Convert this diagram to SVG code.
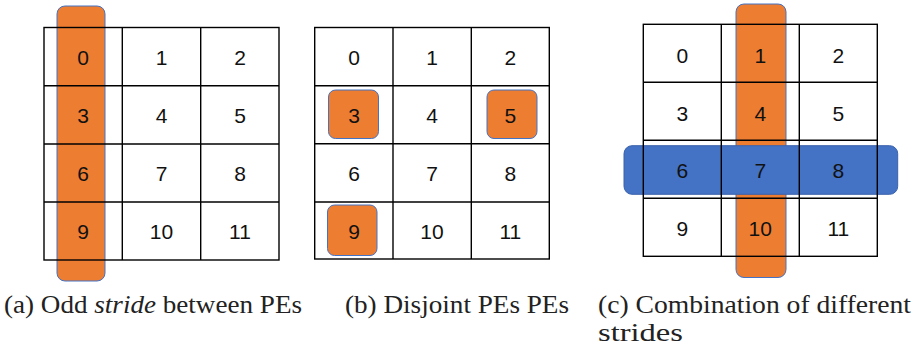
<svg xmlns="http://www.w3.org/2000/svg" width="915" height="348" viewBox="0 0 915 348">
  <style>
    .grid { fill: none; stroke: #000; stroke-width: 1.4; }
    .pe { fill: #ED7D31; stroke: #4472C4; stroke-width: 1; }
    .row { fill: #4472C4; stroke: #3A62AC; stroke-width: 1; }
    .num { font-family: "Liberation Sans", Arial, sans-serif; font-size: 21px; fill: #111; text-anchor: middle; }
    .cap { font-family: "Liberation Serif", "Times New Roman", serif; font-size: 25px; fill: #222; }
  </style>
  <rect width="915" height="348" fill="#fff"/>

  <!-- (a) odd stride: one column highlighted -->
  <g id="panel-a">
    <rect class="pe" x="57" y="6" width="48" height="275" rx="8"/>
    <g class="grid">
      <rect x="44" y="27.5" width="235" height="232.5"/>
      <line x1="122.3" y1="27.5" x2="122.3" y2="260"/>
      <line x1="200.7" y1="27.5" x2="200.7" y2="260"/>
      <line x1="44" y1="85.7" x2="279" y2="85.7"/>
      <line x1="44" y1="144" x2="279" y2="144"/>
      <line x1="44" y1="202" x2="279" y2="202"/>
    </g>
    <g class="num">
      <text x="83" y="64.5">0</text><text x="161.5" y="64.5">1</text><text x="240" y="64.5">2</text>
      <text x="83" y="122.5">3</text><text x="161.5" y="122.5">4</text><text x="240" y="122.5">5</text>
      <text x="83" y="180.5">6</text><text x="161.5" y="180.5">7</text><text x="240" y="180.5">8</text>
      <text x="83" y="238.5">9</text><text x="161.5" y="238.5">10</text><text x="240" y="238.5">11</text>
    </g>
  </g>

  <!-- (b) disjoint PEs -->
  <g id="panel-b">
    <rect class="pe" x="328.5" y="90" width="50" height="48.5" rx="7"/>
    <rect class="pe" x="487" y="90" width="50" height="48.5" rx="7"/>
    <rect class="pe" x="327.5" y="205" width="49.5" height="50.5" rx="7"/>
    <g class="grid">
      <rect x="314.7" y="27.5" width="234.6" height="231.5"/>
      <line x1="393" y1="27.5" x2="393" y2="259"/>
      <line x1="471.3" y1="27.5" x2="471.3" y2="259"/>
      <line x1="314.7" y1="85.7" x2="549.3" y2="85.7"/>
      <line x1="314.7" y1="143.7" x2="549.3" y2="143.7"/>
      <line x1="314.7" y1="202" x2="549.3" y2="202"/>
    </g>
    <g class="num">
      <text x="354" y="64.5">0</text><text x="432" y="64.5">1</text><text x="510.3" y="64.5">2</text>
      <text x="354" y="122.5">3</text><text x="432" y="122.5">4</text><text x="510.3" y="122.5">5</text>
      <text x="354" y="180.5">6</text><text x="432" y="180.5">7</text><text x="510.3" y="180.5">8</text>
      <text x="354" y="238.5">9</text><text x="432" y="238.5">10</text><text x="510.3" y="238.5">11</text>
    </g>
  </g>

  <!-- (c) column and row strides combined -->
  <g id="panel-c">
    <rect class="pe" x="736" y="4" width="50" height="273.5" rx="8"/>
    <rect class="row" x="624" y="145.7" width="273.7" height="48.6" rx="8"/>
    <g class="grid">
      <rect x="643.3" y="24.3" width="234" height="232"/>
      <line x1="721.3" y1="24.3" x2="721.3" y2="256.3"/>
      <line x1="799.3" y1="24.3" x2="799.3" y2="256.3"/>
      <line x1="643.3" y1="82.3" x2="877.3" y2="82.3"/>
      <line x1="643.3" y1="140.3" x2="877.3" y2="140.3"/>
      <line x1="643.3" y1="198.3" x2="877.3" y2="198.3"/>
    </g>
    <g class="num">
      <text x="682.3" y="62.5">0</text><text x="760.3" y="62.5">1</text><text x="838.3" y="62.5">2</text>
      <text x="682.3" y="120.5">3</text><text x="760.3" y="120.5">4</text><text x="838.3" y="120.5">5</text>
      <text x="682.3" y="177.5">6</text><text x="760.3" y="177.5">7</text><text x="838.3" y="177.5">8</text>
      <text x="682.3" y="235.5">9</text><text x="760.3" y="235.5">10</text><text x="838.3" y="235.5">11</text>
    </g>
  </g>

  <!-- captions -->
  <g id="captions" class="cap">
    <text x="4" y="313" textLength="298" lengthAdjust="spacingAndGlyphs">(a) Odd <tspan font-style="italic">stride</tspan> between PEs</text>
    <text x="345" y="313" textLength="224" lengthAdjust="spacingAndGlyphs">(b) Disjoint PEs PEs</text>
    <text x="598" y="313" textLength="313" lengthAdjust="spacingAndGlyphs">(c) Combination of different</text>
    <text x="598" y="341" textLength="85" lengthAdjust="spacingAndGlyphs">strides</text>
  </g>
</svg>
